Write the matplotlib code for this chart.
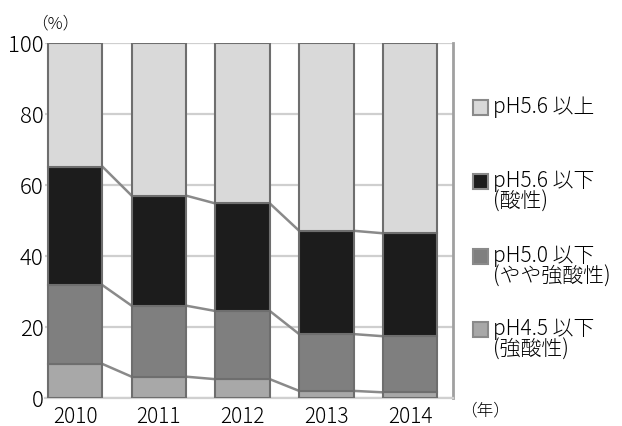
import matplotlib.pyplot as plt
from matplotlib.patches import Rectangle

plt.rcParams['font.family'] = ['Noto Sans CJK JP', 'DejaVu Sans']

years = ["2010", "2011", "2012", "2013", "2014"]

# share of each pH class (%), bottom to top
ph45_below = [9.6, 6.0, 5.3, 2.0, 1.6]
ph50_below = [22.2, 20.0, 19.2, 16.0, 15.8]
ph56_below = [33.4, 31.0, 30.3, 29.1, 29.0]
ph56_above = [34.8, 43.0, 45.2, 52.9, 53.6]

series = [ph45_below, ph50_below, ph56_below, ph56_above]
colors = ["#a8a8a8", "#7f7f7f", "#1c1c1c", "#d9d9d9"]
legend_labels = [
    "pH5.6 以上",
    "pH5.6 以下\n(酸性)",
    "pH5.0 以下\n(やや強酸性)",
    "pH4.5 以下\n(強酸性)",
]
legend_colors = ["#d9d9d9", "#1c1c1c", "#7f7f7f", "#a8a8a8"]

fig = plt.figure(figsize=(6.22, 4.27), dpi=100)
ax = fig.add_axes([0.0723, 0.0656, 0.6557, 0.8314])

x = list(range(len(years)))
width = 0.65
bottoms = [0.0] * len(years)
for vals, col in zip(series, colors):
    ax.bar(x, vals, width, bottom=bottoms, color=col, edgecolor="#6e6e6e",
           linewidth=1.5, zorder=3)
    bottoms = [b + v for b, v in zip(bottoms, vals)]

    # series lines joining the segment tops of neighbouring bars
    if bottoms[0] < 99:
        for i in range(len(years) - 1):
            ax.plot([x[i] + width / 2, x[i + 1] - width / 2],
                    [bottoms[i], bottoms[i + 1]],
                    color="#8a8a8a", linewidth=1.8, zorder=2)

ax.set_xlim(-0.36, 4.51)
ax.set_ylim(0, 100)
ax.set_yticks([0, 20, 40, 60, 80, 100])
ax.set_xticks(x)
ax.set_xticklabels(years)
ax.yaxis.grid(True, color="#cfcfcf", linewidth=1.6, zorder=0)
ax.set_axisbelow(True)

for side in ["left", "top"]:
    ax.spines[side].set_visible(False)
ax.spines["bottom"].set_color("#d0d0d0")
ax.spines["bottom"].set_linewidth(1.6)
ax.spines["right"].set_color("#a0a0a0")
ax.spines["right"].set_linewidth(2)

ax.tick_params(axis="y", length=0, labelsize=16, pad=1)
ax.tick_params(axis="x", length=0, labelsize=15, pad=5)
for lbl in ax.get_xticklabels() + ax.get_yticklabels():
    lbl.set_fontweight("light")

fig.text(0.050, 0.945, "（%）", fontsize=12, ha="left", va="center",
         fontweight="light")
fig.text(0.740, 0.038, "（年）", fontsize=12, ha="left", va="center",
         fontweight="light")

# legend drawn by hand at the right side
legend_y = [108, 182, 257, 330]
for lab, col, yp in zip(legend_labels, legend_colors, legend_y):
    yf = 1 - yp / 427
    fig.add_artist(Rectangle((473 / 622, yf - 7.5 / 427), 15 / 622, 15 / 427,
                             facecolor=col, edgecolor="#8a8a8a",
                             linewidth=1.5, transform=fig.transFigure))
    fig.text(493 / 622, yf + 12 / 427, lab, fontsize=15, ha="left", va="top",
             linespacing=0.92, fontweight="light")

fig.savefig("out.png", dpi=100)
